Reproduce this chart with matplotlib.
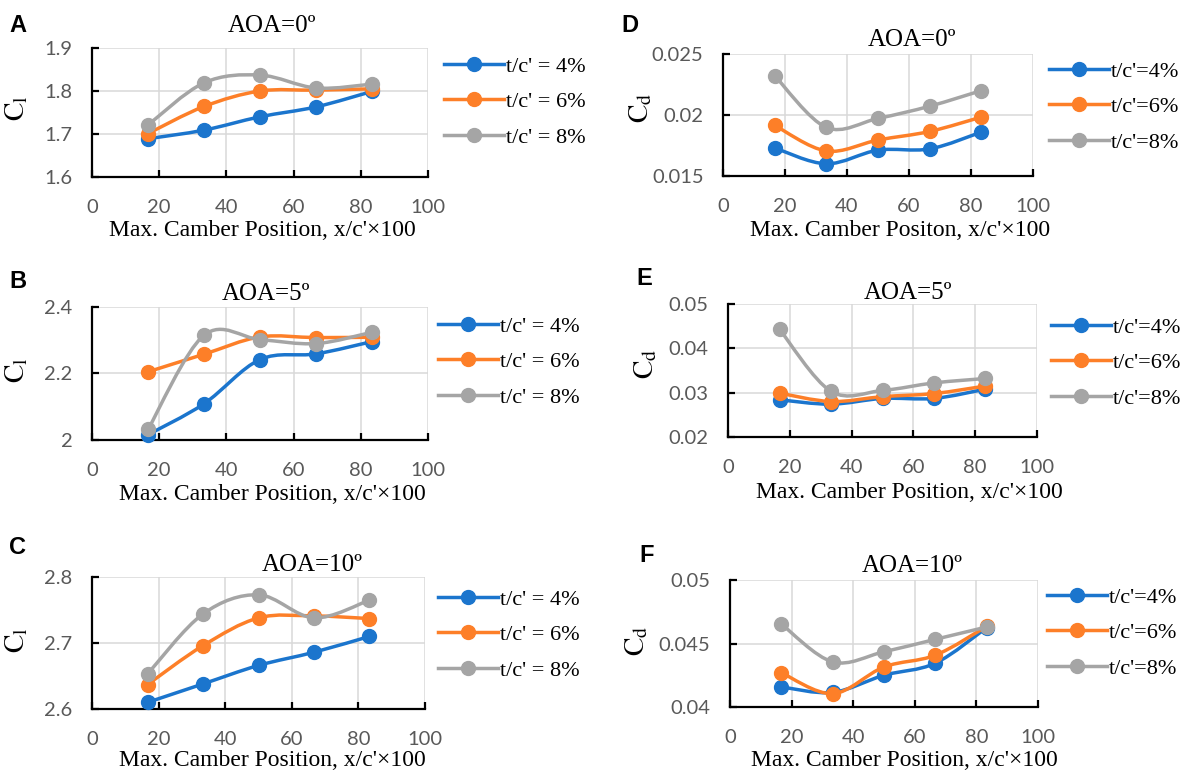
import matplotlib
matplotlib.use("Agg")
import matplotlib.pyplot as plt
from matplotlib.path import Path
from matplotlib.patches import PathPatch
from matplotlib.lines import Line2D

# --- Data ---
camber_pos = [16.67, 33.33, 50.0, 66.67, 83.33]
series_labels = ["4%", "6%", "8%"]

# Lift coefficient per angle of attack, one list per thickness ratio
cl_aoa0 = [[1.689, 1.709, 1.740, 1.763, 1.799],
           [1.701, 1.764, 1.800, 1.802, 1.805],
           [1.721, 1.819, 1.837, 1.807, 1.816]]
cl_aoa5 = [[2.016, 2.109, 2.242, 2.259, 2.296],
           [2.205, 2.258, 2.310, 2.308, 2.309],
           [2.032, 2.315, 2.302, 2.290, 2.324]]
cl_aoa10 = [[2.610, 2.638, 2.666, 2.686, 2.710],
            [2.637, 2.696, 2.738, 2.741, 2.737],
            [2.653, 2.744, 2.773, 2.738, 2.765]]

# Drag coefficient per angle of attack
cd_aoa0 = [[0.01730, 0.01600, 0.01712, 0.01722, 0.01860],
           [0.01915, 0.01705, 0.01795, 0.01865, 0.01983],
           [0.02322, 0.01898, 0.01972, 0.02072, 0.02200]]
cd_aoa5 = [[0.0284, 0.0274, 0.0287, 0.0287, 0.0308],
           [0.0299, 0.0280, 0.0291, 0.0298, 0.0315],
           [0.0443, 0.0303, 0.0305, 0.0322, 0.0332]]
cd_aoa10 = [[0.04158, 0.04115, 0.04250, 0.04345, 0.04625],
            [0.04270, 0.04105, 0.04315, 0.04408, 0.04635],
            [0.04653, 0.04355, 0.04435, 0.04533, 0.04630]]

COLORS = ["#1b75cd", "#fd7f28", "#a5a5a5"]
GRID = "#d9d9d9"
TICK_COLOR = "#595959"
W, H = 1184, 774

plt.rcParams["mathtext.fontset"] = "stix"

fig = plt.figure(figsize=(W / 100, H / 100), dpi=100)


def px_axes(left, right, top, bottom):
    return fig.add_axes([left / W, 1 - bottom / H, (right - left) / W, (bottom - top) / H])


def smooth_path(xs, ys):
    """Excel-style smoothed line: cubic Bezier through every point."""
    pts = list(zip(xs, ys))
    n = len(pts)
    verts = [pts[0]]
    codes = [Path.MOVETO]
    for i in range(n - 1):
        p0 = pts[i - 1] if i > 0 else pts[i]
        p1 = pts[i]
        p2 = pts[i + 1]
        p3 = pts[i + 2] if i + 2 < n else pts[i + 1]
        c1 = (p1[0] + (p2[0] - p0[0]) / 6, p1[1] + (p2[1] - p0[1]) / 6)
        c2 = (p2[0] - (p3[0] - p1[0]) / 6, p2[1] - (p3[1] - p1[1]) / 6)
        verts += [c1, c2, p2]
        codes += [Path.CURVE4] * 3
    return Path(verts, codes)


def draw_panel(box, data, ylim, yticks, title, title_xy, letter, letter_xy,
               ylab, ylab_xy, xlab, xlab_xy, leg_xy, leg_fmt):
    ax = px_axes(*box)
    for i, ys in enumerate(data):
        patch = PathPatch(smooth_path(camber_pos, ys), fill=False,
                          edgecolor=COLORS[i], lw=2.5, zorder=3 + i * 2,
                          capstyle="round", joinstyle="round")
        ax.add_patch(patch)
        ax.plot(camber_pos, ys, "o", color=COLORS[i], markersize=10,
                zorder=4 + i * 2, clip_on=False)

    ax.set_xlim(0, 100)
    ax.set_ylim(*ylim)
    ax.set_xticks(range(0, 101, 20))
    ax.set_yticks(yticks)
    ax.set_yticklabels([f"{v:g}" for v in yticks])
    ax.grid(True, color=GRID, lw=1.1, zorder=0)
    ax.set_axisbelow(True)
    for side in ("top", "right"):
        ax.spines[side].set_visible(False)
    for side in ("left", "bottom"):
        ax.spines[side].set_linewidth(1.6)
        ax.spines[side].set_color("black")
    ax.tick_params(axis="both", direction="in", length=5, width=1.6,
                   colors="black", labelcolor=TICK_COLOR, labelsize=14.5)
    ax.tick_params(axis="x", pad=16)
    ax.tick_params(axis="y", pad=14)
    for lab in ax.get_xticklabels() + ax.get_yticklabels():
        lab.set_fontfamily("Lato")

    fig.text(title_xy[0] / W, 1 - title_xy[1] / H, title, ha="center", va="center",
             fontsize=18, family="Liberation Serif")
    fig.text(letter_xy[0] / W, 1 - letter_xy[1] / H, letter, ha="left", va="center",
             fontsize=17, family="Liberation Sans", weight="bold")
    fig.text(ylab_xy[0] / W, 1 - ylab_xy[1] / H, ylab, ha="center", va="center",
             rotation=90, fontsize=20)
    fig.text(xlab_xy[0] / W, 1 - xlab_xy[1] / H, xlab, ha="center", va="center",
             fontsize=17, family="Liberation Serif")

    handles = [Line2D([], [], color=c, lw=2.5, marker="o", markersize=10) for c in COLORS]
    labels = [leg_fmt.format(s) for s in series_labels]
    ax.legend(handles, labels, loc="upper left",
              bbox_to_anchor=(leg_xy[0] / W, 1 - leg_xy[1] / H),
              bbox_transform=fig.transFigure, frameon=False,
              prop={"family": "Liberation Serif", "size": 16},
              handlelength=2.7, handletextpad=0.1, labelspacing=0.68,
              borderpad=0, borderaxespad=0)
    return ax


cl_lab = r"$\mathrm{C_l}$"
cd_lab = r"$\mathrm{C_d}$"
xlab = "Max. Camber Position, x/c'×100"
xlab_typo = "Max. Camber Positon, x/c'×100"
left_leg = "t/c' = {}"
right_leg = "t/c'={}"

draw_panel((92, 428, 48, 177), cl_aoa0, (1.6, 1.9), [1.6, 1.7, 1.8, 1.9],
           "AOA=0º", (272, 26), "A", (9, 26), cl_lab, (16, 108),
           xlab, (262, 231), (444, 56), left_leg)
draw_panel((92, 428, 307, 440), cl_aoa5, (2.0, 2.4), [2.0, 2.2, 2.4],
           "AOA=5º", (266, 294), "B", (9, 282), cl_lab, (16, 370),
           xlab, (272, 495), (438, 316), left_leg)
draw_panel((92, 425, 577, 709), cl_aoa10, (2.6, 2.8), [2.6, 2.7, 2.8],
           "AOA=10º", (312, 565), "C", (9, 548), cl_lab, (16, 640),
           xlab, (272, 761), (438, 589), left_leg)
draw_panel((723, 1033, 54, 176), cd_aoa0, (0.015, 0.025), [0.015, 0.02, 0.025],
           "AOA=0º", (912, 40), "D", (621, 25), cd_lab, (640, 108),
           xlab_typo, (900, 231), (1049, 61), right_leg)
draw_panel((728, 1037, 304, 437), cd_aoa5, (0.02, 0.05), [0.02, 0.03, 0.04, 0.05],
           "AOA=5º", (908, 293), "E", (636, 278), cd_lab, (645, 364),
           xlab, (909, 493), (1051, 317), right_leg)
draw_panel((730, 1038, 580, 707), cd_aoa10, (0.04, 0.05), [0.04, 0.045, 0.05],
           "AOA=10º", (912, 566), "F", (639, 556), cd_lab, (636, 641),
           xlab, (904, 761), (1047, 587), right_leg)

fig.savefig("out.png", dpi=100, facecolor="white")
